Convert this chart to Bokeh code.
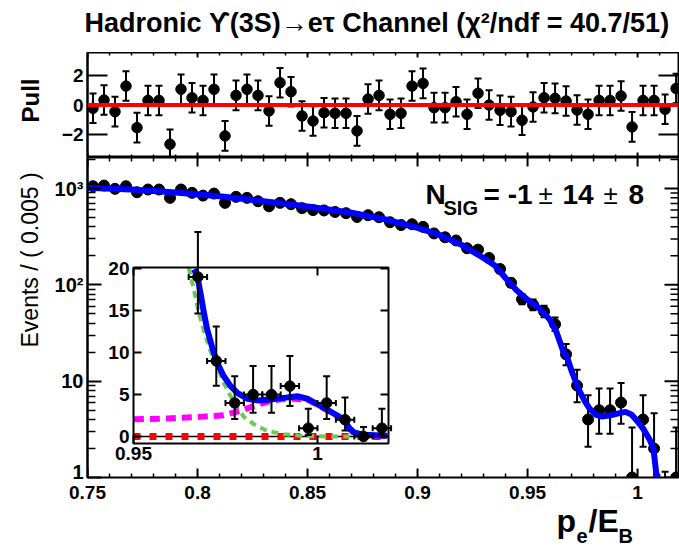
import math
from bokeh.plotting import figure
from bokeh.layouts import column, row
from bokeh.models import (Range1d, LinearAxis, LogAxis, FixedTicker, Label, Span,
                          LinearScale, CustomJSTickFormatter)
from bokeh.core.properties import value
from bokeh.embed import file_html
from bokeh.resources import INLINE

FONT = "Liberation Sans"

# ---------------- data ----------------
BIN_LO = 0.75
BIN_W = 0.005
N_BINS = 54
X_END = 1.0186

# events per bin
COUNTS = [1057, 1074, 993, 1057, 915, 977, 977, 800, 977, 902,
          845, 887, 710, 820, 800, 738, 654, 710, 688, 626,
          598, 592, 571, 555, 507, 529, 504, 447, 418, 426,
          400, 342, 312, 289, 240, 232, 190, 146, 105, 71,
          62, 53, 39, 19, 9, 4, 5, 5, 6, 1,
          4, 2, 0, 1]

PULLS = [-0.22, 0.34, -0.45, 1.28, -1.53, 0.31, 0.31, -2.65, 1.07, 0.49,
         0.31, 1.06, -2.09, 0.65, 1.06, 0.65, -0.40, 1.51, 0.90, -0.74,
         -1.08, -0.52, -0.56, -0.56, -1.75, 0.40, 0.65, -0.63, -0.56, 1.28,
         1.46, -0.18, -0.18, 0.22, -0.63, 0.79, 0.00, -0.36, -0.45, -1.03,
         -0.13, 0.49, 0.45, 0.27, -0.34, -0.63, 0.31, 0.31, 0.61, -1.48,
         0.31, 0.31, -0.29, 1.12]

# total fit (blue)
FIT_X = [0.750, 0.770, 0.790, 0.810, 0.830, 0.850, 0.870, 0.885, 0.900, 0.910,
         0.920, 0.930, 0.935, 0.940, 0.945, 0.950, 0.955, 0.960, 0.963,
         0.9664, 0.9673, 0.9682, 0.9691, 0.9700, 0.9714, 0.9727, 0.9745, 0.9764,
         0.9782, 0.9809, 0.9836, 0.9872, 0.9908, 0.9945, 0.9972, 0.9999, 1.0026,
         1.0054, 1.0072, 1.0085, 1.0099, 1.0126, 1.0190]
FIT_Y = [1020, 975, 910, 830, 740, 650, 560, 480, 390, 330,
         260, 190, 160, 118, 88, 70, 58, 44, 33,
         19.9, 19.2, 17.1, 14.8, 12.8, 10.6, 8.8, 7.2, 6.0,
         5.2, 4.5, 4.3, 4.4, 4.6, 4.8, 4.5, 3.85, 3.2,
         2.5, 2.0, 1.1, 0.5, 0.2, 0.1]

# falling background component (green)
GREEN_X = [0.9650, 0.9664, 0.9677, 0.9691, 0.9709, 0.9727, 0.9745, 0.9764, 0.9782,
           0.9800, 0.9827, 0.9863, 0.9908, 0.9954, 1.0026, 1.0190]
GREEN_Y = [20.1, 17.5, 14.8, 12.6, 10.2, 8.4, 6.4, 4.8, 3.45,
           2.34, 1.47, 0.67, 0.28, 0.08, 0.0, 0.0]

# second background component (magenta)
MAG_X = [0.9501, 0.9592, 0.9682, 0.9745, 0.9791, 0.9827, 0.9863, 0.9899, 0.9936,
         0.9972, 0.9999, 1.0054, 1.0072, 1.0085, 1.0099, 1.0126, 1.0190]
MAG_Y = [2.06, 2.14, 2.34, 2.54, 3.06, 3.65, 4.13, 4.44, 4.5,
         4.4, 3.8, 2.45, 1.9, 1.0, 0.4, 0.1, 0.05]

# signal component (red)
SIG_X = [0.95, 1.0193]
SIG_Y = [0.0, 0.0]

X_TICKS = [0.75, 0.8, 0.85, 0.9, 0.95, 1.0]
X_TICK_LABELS = ["0.75", "0.8", "0.85", "0.9", "0.95", "1"]
X_MINOR = [0.76, 0.77, 0.78, 0.79, 0.81, 0.82, 0.83, 0.84, 0.86, 0.87, 0.88, 0.89,
           0.91, 0.92, 0.93, 0.94, 0.96, 0.97, 0.98, 0.99, 1.01]
PULL_TICKS = [-2, 0, 2]
Y_TICKS = [1, 10, 100, 1000]
Y_MINOR = [m * d for d in (1, 10, 100) for m in range(2, 10)] + [2000]
INSET_XR = (0.95, 1.0193)
INSET_YR = (-0.83, 20.12)
INSET_YTICKS = [0, 5, 10, 15, 20]
INSET_XTICKS = [0.95, 1.0]

TITLE = "Hadronic \u03d2(3S)\u2192e\u03c4 Channel  (\u03c7\u00b2/ndf = 40.7/51)"

# Poisson 68% intervals for small counts
POIS = {0: (0.0, 1.148), 1: (0.173, 3.300), 2: (0.708, 4.638), 3: (1.367, 5.918),
        4: (2.086, 7.163), 5: (2.840, 8.382), 6: (3.620, 9.584), 7: (4.419, 10.77),
        8: (5.232, 11.95), 9: (6.057, 13.11), 10: (6.891, 14.27), 19: (14.64, 24.35)}


def interval(n):
    if n in POIS:
        return POIS[n]
    s = math.sqrt(n + 0.25)
    return (n + 0.5 - s, n + 0.5 + s)


xc = [BIN_LO + BIN_W * (i + 0.5) for i in range(N_BINS)]

# --------------- layout constants (pixels) ---------------
W = 679
FRAME_L = 87
FRAME_W = 591
LEFT_PAD = 50
BORDER_L = FRAME_L - LEFT_PAD
H_TITLE = 52
H_PULL = 105
H_MAIN_FRAME = 320
MAIN_BOTTOM = 5
H_MAIN = H_MAIN_FRAME + MAIN_BOTTOM
H_XLAB = 548 - H_TITLE - H_PULL - H_MAIN


def style_axis(ax, tin, minor_in=0, size="19px"):
    ax.axis_line_color = "black"
    ax.axis_line_width = 2
    ax.major_tick_line_color = "black"
    ax.major_tick_line_width = 2
    ax.minor_tick_line_color = "black"
    ax.minor_tick_line_width = 1.5
    ax.major_tick_in = tin
    ax.major_tick_out = 0
    ax.minor_tick_in = minor_in
    ax.minor_tick_out = 0
    ax.major_label_text_font = FONT
    ax.major_label_text_font_style = "bold"
    ax.major_label_text_font_size = size
    ax.major_label_text_color = "black"
    ax.major_label_standoff = 4


def base_fig(fh, yr, bottom, ytype="linear"):
    p = figure(frame_width=FRAME_W, frame_height=fh, x_range=Range1d(BIN_LO, X_END), y_range=yr,
               y_axis_type=ytype, x_axis_location=None, y_axis_location=None,
               output_backend="svg", toolbar_location=None,
               min_border_left=BORDER_L, min_border_right=1, min_border_top=0,
               min_border_bottom=bottom)
    p.grid.grid_line_color = None
    p.outline_line_color = "black"
    p.outline_line_width = 2
    p.background_fill_color = "white"
    p.border_fill_color = "white"
    return p


def text_fig(w, h, xr=(0, 1), yr=(0, 1)):
    f = figure(width=w, height=h, x_range=Range1d(*xr), y_range=Range1d(*yr),
               x_axis_location=None, y_axis_location=None, output_backend="svg",
               toolbar_location=None, min_border=0)
    f.grid.grid_line_color = None
    f.outline_line_color = None
    f.background_fill_color = "white"
    f.border_fill_color = "white"
    return f


def lab(p, x, y, t, size, bold=True, align="left", baseline="middle", angle=0.0):
    p.add_layout(Label(x=x, y=y, x_units="screen", y_units="screen", text=t, angle=angle,
                       text_font=FONT, text_font_style="bold" if bold else "normal",
                       text_font_size=size, text_align=align, text_baseline=baseline,
                       text_color="black"))


def edge_ticks(p, xs, ys, length, angle, width=2):
    p.ray(x=xs, y=ys, length=length, length_units="screen", angle=angle,
          line_color="black", line_width=width)


fmt_log = CustomJSTickFormatter(code="const m={1:'1',10:'10',100:'10\u00b2',1000:'10\u00b3'}; return m[Math.round(tick)] || '';")

# --------------- title strip ---------------
p0 = text_fig(W, H_TITLE)
lab(p0, 380, 30, TITLE, "27px", align="center")

# --------------- pull panel ---------------
PY = (-3.55, 3.55)
p1 = base_fig(H_PULL, Range1d(*PY), 0)
ax = LinearAxis(ticker=FixedTicker(ticks=PULL_TICKS, minor_ticks=[]))
style_axis(ax, 20, 0, size="19px")
p1.add_layout(ax, "left")
edge_ticks(p1, [X_END] * 3, PULL_TICKS, 20, math.pi)
edge_ticks(p1, X_TICKS, [PY[0]] * 6, 5, math.pi / 2)
edge_ticks(p1, X_TICKS, [PY[1]] * 6, 5, -math.pi / 2)
edge_ticks(p1, X_MINOR, [PY[0]] * len(X_MINOR), 3, math.pi / 2, 1.5)
edge_ticks(p1, X_MINOR, [PY[1]] * len(X_MINOR), 3, -math.pi / 2, 1.5)

p1.add_layout(Span(location=0, dimension="width", line_color="#ff0000", line_width=4))
p1.segment(x0=xc, x1=xc, y0=[v - 1 for v in PULLS], y1=[v + 1 for v in PULLS],
           line_color="black", line_width=2)
p1.scatter(x=xc + xc, y=[v - 1 for v in PULLS] + [v + 1 for v in PULLS], marker="dash",
           size=7, line_color="black", line_width=2)
p1.scatter(x=xc, y=PULLS, marker="circle", size=10.5, fill_color="black", line_color="black")

pl = text_fig(LEFT_PAD, H_PULL, yr=(0, H_PULL))
pl.text(x=[0.6], y=[H_PULL - 48], text=["Pull"], angle=math.pi / 2, text_align="center",
        text_baseline="middle", text_font=value(FONT), text_font_style="bold",
        text_font_size="24px", text_color="black")

# --------------- main panel ---------------
MY = (1, 2100)
p2 = base_fig(H_MAIN_FRAME, Range1d(*MY), MAIN_BOTTOM, ytype="log")
yt = FixedTicker(ticks=Y_TICKS, minor_ticks=Y_MINOR)
ax = LogAxis(ticker=yt, formatter=fmt_log)
style_axis(ax, 14, 8, size="20px")
p2.add_layout(ax, "left")
edge_ticks(p2, [X_END] * len(Y_TICKS), Y_TICKS, 14, math.pi)
edge_ticks(p2, [X_END] * len(Y_MINOR), Y_MINOR, 8, math.pi, 1.5)
edge_ticks(p2, X_TICKS, [MY[1]] * 6, 9, -math.pi / 2)
edge_ticks(p2, X_MINOR, [MY[1]] * len(X_MINOR), 4, -math.pi / 2, 1.5)
edge_ticks(p2, X_TICKS, [MY[0]] * 6, 9, math.pi / 2)
edge_ticks(p2, X_MINOR, [MY[0]] * len(X_MINOR), 4, math.pi / 2, 1.5)

mx, lo, hi = [], [], []
for x, n in zip(xc, COUNTS):
    a, b = interval(n)
    lo.append(max(a, 0.5))
    hi.append(b)
    mx.append(x)
cx = [x for x, n in zip(xc, COUNTS) if n > 0]
cy = [n for n in COUNTS if n > 0]
p2.segment(x0=mx, x1=mx, y0=lo, y1=hi, line_color="black", line_width=2)
p2.scatter(x=mx + mx, y=lo + hi, marker="dash", size=7, line_color="black", line_width=2)
p2.scatter(x=cx, y=cy, marker="circle", size=11, fill_color="black", line_color="black")
p2.line(FIT_X, FIT_Y, line_color="#0000ff", line_width=6)

# inset drawn with extra ranges mapped onto a sub-box of the frame
box_l, box_r, box_t, box_b = 46, 301, 110, 286   # px inside the main frame
sx = (box_r - box_l) / (INSET_XR[1] - INSET_XR[0])
sy = (box_b - box_t) / (INSET_YR[1] - INSET_YR[0])
x0 = INSET_XR[0] - box_l / sx
y0 = INSET_YR[0] - (H_MAIN_FRAME - box_b) / sy
p2.extra_x_ranges = {"ix": Range1d(x0, x0 + FRAME_W / sx)}
p2.extra_y_ranges = {"iy": Range1d(y0, y0 + H_MAIN_FRAME / sy)}
p2.extra_x_scales = {"ix": LinearScale()}
p2.extra_y_scales = {"iy": LinearScale()}
R = dict(x_range_name="ix", y_range_name="iy")

p2.quad(left=[INSET_XR[0]], right=[INSET_XR[1]], bottom=[INSET_YR[0]], top=[INSET_YR[1]],
        fill_color="white", line_color=None, **R)
p2.segment(x0=[INSET_XR[0]], x1=[INSET_XR[1]], y0=[0], y1=[0], line_color="black", line_width=1.5, **R)
p2.line(SIG_X, SIG_Y, line_color="#ff0000", line_width=7, line_dash="7 9", **R)
p2.line(GREEN_X, GREEN_Y, line_color="#66cc55", line_width=4, line_dash="7 5", **R)
p2.line(MAG_X, MAG_Y, line_color="#ff00ff", line_width=6, line_dash="10 6", **R)
ix = [x for x, y in zip(FIT_X, FIT_Y) if x >= INSET_XR[0] and y <= INSET_YR[1]]
iy = [y for x, y in zip(FIT_X, FIT_Y) if x >= INSET_XR[0] and y <= INSET_YR[1]]
p2.line(ix, iy, line_color="#0000ff", line_width=6, **R)

px_, py_, plo, phi = [], [], [], []
for x, n in zip(xc, COUNTS):
    if x > INSET_XR[0] and n <= INSET_YR[1]:
        a, b = interval(n)
        px_.append(x); py_.append(n); plo.append(a); phi.append(b)
p2.segment(x0=px_, x1=px_, y0=plo, y1=phi, line_color="black", line_width=2, **R)
p2.scatter(x=px_ + px_, y=plo + phi, marker="dash", size=7, line_color="black", line_width=2, **R)
p2.segment(x0=[x - BIN_W / 2 for x in px_], x1=[x + BIN_W / 2 for x in px_], y0=py_, y1=py_,
           line_color="black", line_width=2, **R)
p2.scatter(x=[x - BIN_W / 2 for x in px_] + [x + BIN_W / 2 for x in px_], y=py_ + py_,
           marker="dash", angle=math.pi / 2, size=6, line_color="black", line_width=2, **R)
p2.scatter(x=px_, y=py_, marker="circle", size=10.5, fill_color="black", line_color="black", **R)

# inset frame and ticks
p2.quad(left=[INSET_XR[0]], right=[INSET_XR[1]], bottom=[INSET_YR[0]], top=[INSET_YR[1]],
        fill_color=None, line_color="black", line_width=2, **R)
p2.ray(x=[INSET_XR[0]] * len(INSET_YTICKS), y=INSET_YTICKS, length=8, length_units="screen",
       angle=0, line_color="black", line_width=2, **R)
p2.ray(x=[INSET_XR[1]] * len(INSET_YTICKS), y=INSET_YTICKS, length=8, length_units="screen",
       angle=math.pi, line_color="black", line_width=2, **R)
p2.ray(x=INSET_XTICKS, y=[INSET_YR[0]] * 2, length=8, length_units="screen",
       angle=math.pi / 2, line_color="black", line_width=2, **R)
p2.ray(x=INSET_XTICKS, y=[INSET_YR[1]] * 2, length=8, length_units="screen",
       angle=-math.pi / 2, line_color="black", line_width=2, **R)
p2.text(x=[INSET_XR[0]] * len(INSET_YTICKS), y=INSET_YTICKS, text=[str(v) for v in INSET_YTICKS],
        x_offset=-4, text_align="right", text_baseline="middle", text_font=value(FONT),
        text_font_style="bold", text_font_size="19px", text_color="black", **R)
p2.text(x=INSET_XTICKS, y=[INSET_YR[0]] * 2, text=["0.95", "1"], y_offset=3,
        text_align="center", text_baseline="top", text_font=value(FONT),
        text_font_style="bold", text_font_size="19px", text_color="black", **R)

# N_SIG = -1 ± 14 ± 8  (text centres, frame pixels from bottom-left)
lab(p2, 338, 283, "N", "28px")
lab(p2, 356, 270, "SIG", "20px")
lab(p2, 396, 283, "= -1", "28px")
lab(p2, 451, 283, "\u00b1", "26px", bold=False)
lab(p2, 475, 283, "14", "28px")
lab(p2, 516, 283, "\u00b1", "26px", bold=False)
lab(p2, 541, 283, "8", "28px")

pe = text_fig(LEFT_PAD, H_MAIN, yr=(0, H_MAIN))
pe.text(x=[0.58], y=[H_MAIN - 104], text=["Events / ( 0.005 )"], angle=math.pi / 2,
        text_align="center", text_baseline="middle", text_font=value(FONT),
        text_font_size="23px", text_color="black")

# --------------- x tick labels and x-axis title strip ---------------
scale = (X_END - BIN_LO) / FRAME_W
p3 = text_fig(W, H_XLAB, xr=(BIN_LO - FRAME_L * scale, BIN_LO + (W - FRAME_L) * scale),
              yr=(0, H_XLAB))
p3.text(x=X_TICKS, y=[H_XLAB - 3] * len(X_TICKS), text=X_TICK_LABELS, text_align="center",
        text_baseline="top", text_font=value(FONT), text_font_style="bold",
        text_font_size="19px", text_color="black")
lab(p3, 556, 28, "p", "32px")
lab(p3, 576, 13, "e", "20px")
lab(p3, 588, 28, "/E", "32px")
lab(p3, 618, 13, "B", "20px")

layout = column(p0, row(pl, p1, spacing=0), row(pe, p2, spacing=0), p3, spacing=0)
open("out.html", "w").write(file_html(layout, INLINE))
